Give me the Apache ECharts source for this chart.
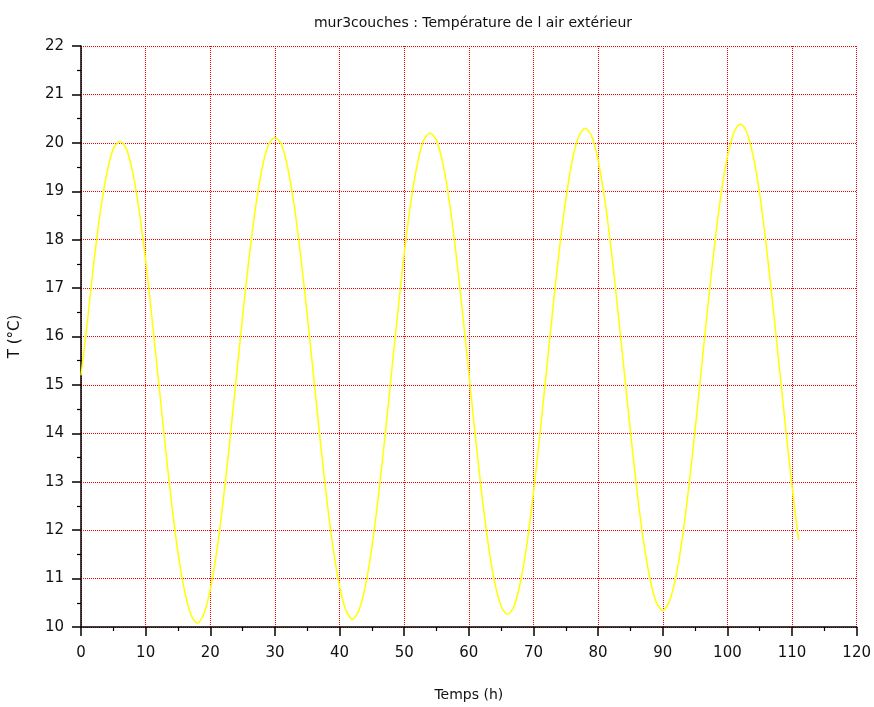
<!DOCTYPE html>
<html>
<head>
<meta charset="utf-8">
<script src="https://cdn.jsdelivr.net/npm/echarts@6/dist/echarts.min.js"></script>
<style>html,body{margin:0;padding:0;background:#fff}#c{width:874px;height:707px}</style>
</head>
<body>
<div id="c"></div>
<script>
const titleText = "mur3couches : Température de l air extérieur";
const xName = "Temps (h)";
const yName = "T (°C)";
const hours = [];
for (let i = 0; i <= 111; i++) hours.push(i);
const temps = [
15.20,16.32,17.54,18.58,19.37,19.88,20.03,19.88,19.39,18.60,17.57,16.36,
15.07,13.79,12.58,11.54,10.76,10.26,10.08,10.27,10.77,11.56,12.61,13.82,
15.11,16.41,17.62,18.66,19.46,19.96,20.11,19.97,19.47,18.69,17.65,16.44,
15.16,13.87,12.66,11.63,10.84,10.34,10.16,10.35,10.85,11.65,12.69,13.90,
15.20,16.49,17.71,18.75,19.54,20.05,20.20,20.05,19.56,18.77,17.73,16.53,
15.24,13.95,12.75,11.71,10.92,10.43,10.26,10.43,10.94,11.73,12.78,13.99,
15.28,16.58,17.79,18.83,19.63,20.13,20.30,20.14,19.64,18.85,17.82,16.61,
15.32,14.04,12.83,11.79,11.01,10.51,10.34,10.52,11.02,11.81,12.86,14.07,
15.36,16.66,17.87,18.92,19.71,20.21,20.39,20.22,19.72,18.94,17.90,16.69,
15.41,14.12,12.91,11.80
];
const data = hours.map((h, i) => [h, temps[i]]);
const font = "DejaVu Sans, Liberation Sans, sans-serif";
const chart = echarts.init(document.getElementById('c'));
chart.setOption({
  animation: false,
  backgroundColor: '#fff',
  title: {
    text: titleText, left: 468, top: 11, textAlign: 'center',
    textStyle: { fontFamily: font, fontSize: 14, fontWeight: 'normal', color: '#111' }
  },
  grid: { left: 79, right: 17, top: 46, bottom: 74, containLabel: false },
  xAxis: {
    type: 'value', min: 0, max: 120, interval: 10,
    name: xName, nameLocation: 'middle', nameGap: 61,
    nameTextStyle: { fontFamily: font, fontSize: 14, color: '#111' },
    axisLine: { show: true, onZero: false, lineStyle: { color: '#000', width: 1.5 } },
    axisTick: { show: true, inside: false, length: 9, lineStyle: { color: '#000', width: 1.5 } },
    minorTick: { show: true, splitNumber: 2, length: 4, lineStyle: { color: '#000', width: 1.2 } },
    axisLabel: { fontFamily: font, fontSize: 15, color: '#111', margin: 19 },
    splitLine: { show: true, lineStyle: { color: '#ff0000', type: [1, 1], width: 1 } }
  },
  yAxis: {
    type: 'value', min: 10, max: 22, interval: 1,
    name: yName, nameLocation: 'middle', nameGap: 58, nameRotate: 90,
    nameTextStyle: { fontFamily: font, fontSize: 15, color: '#111' },
    axisLine: { show: true, onZero: false, lineStyle: { color: '#000', width: 1.5 } },
    axisTick: { show: true, inside: false, length: 9, lineStyle: { color: '#000', width: 1.5 } },
    minorTick: { show: true, splitNumber: 2, length: 4, lineStyle: { color: '#000', width: 1.2 } },
    axisLabel: { fontFamily: font, fontSize: 15, color: '#111', margin: 17 },
    splitLine: { show: true, lineStyle: { color: '#ff0000', type: [1, 1], width: 1 } }
  },
  series: [{
    type: 'line', data: data, showSymbol: false, smooth: 0.3,
    lineStyle: { color: '#ffff00', width: 1.5 }, clip: true
  }]
});
</script>
</body>
</html>
